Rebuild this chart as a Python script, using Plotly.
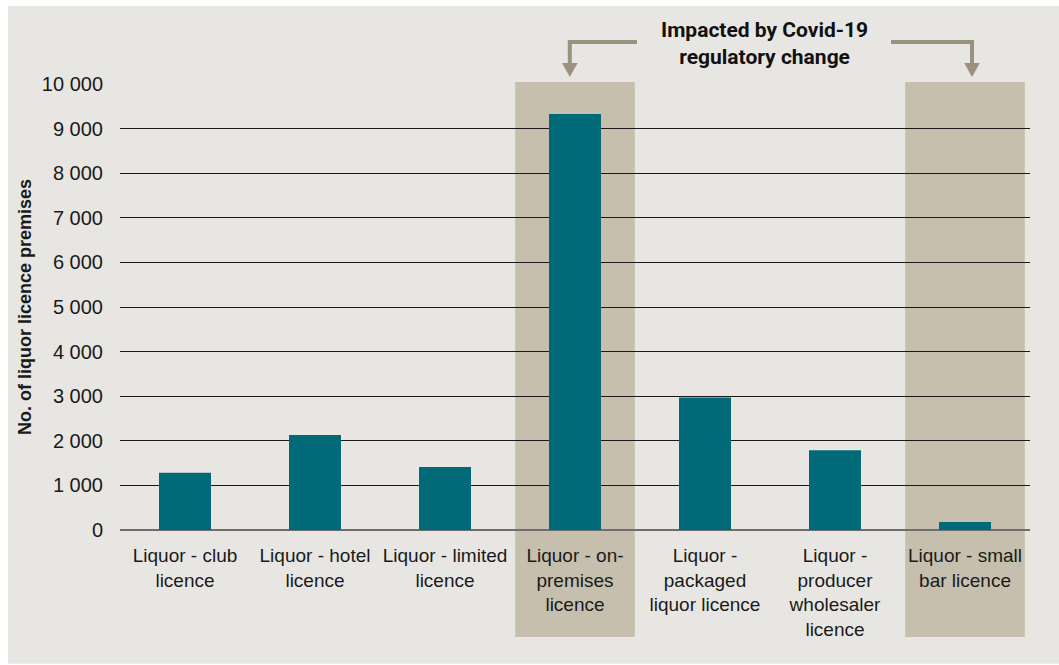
import plotly.graph_objects as go

# Liquor licence premises by licence type
categories = [
    "Liquor - club<br>licence",
    "Liquor - hotel<br>licence",
    "Liquor - limited<br>licence",
    "Liquor - on-<br>premises<br>licence",
    "Liquor -<br>packaged<br>liquor licence",
    "Liquor -<br>producer<br>wholesaler<br>licence",
    "Liquor - small<br>bar licence",
]
premises = [1285, 2130, 1412, 9330, 2970, 1790, 180]

y_ticks = [0, 1000, 2000, 3000, 4000, 5000, 6000, 7000, 8000, 9000, 10000]
y_tick_labels = ["0", "1 000", "2 000", "3 000", "4 000", "5 000",
                 "6 000", "7 000", "8 000", "9 000", "10 000"]

# licence types affected by the Covid-19 regulatory change (category index)
highlighted = [3, 6]

BG = "#e8e6e2"
TEAL = "#006a78"
TAN = "#c6bfad"
ARROW = "#9b917f"
FONT = "Liberation Sans, Arial, sans-serif"

x_idx = list(range(len(categories)))

fig = go.Figure()
fig.add_trace(go.Bar(
    x=x_idx, y=premises, width=0.4,
    marker=dict(color=TEAL, line=dict(width=0)),
    hoverinfo="skip",
))

shapes = [
    # grey panel behind the whole chart
    dict(type="rect", xref="paper", yref="paper",
         x0=-112 / 910, x1=1.04, y0=-0.30, y1=(530 - 6) / 446,
         fillcolor=BG, line=dict(width=0), layer="below"),
]
for i in highlighted:
    shapes.append(dict(type="rect", xref="x", yref="paper",
                       x0=i - 0.46, x1=i + 0.46, y0=-0.24, y1=1.0045,
                       fillcolor=TAN, line=dict(width=0), layer="below"))

# bent arrows pointing at the highlighted columns
y_bar = 1.094
y_head = 1.047
y_tip = 1.0157
left_x, left_start = 2.96, 3.477
right_x, right_start = 6.054, 5.431
for xv, xs in [(left_x, left_start), (right_x, right_start)]:
    shapes.append(dict(type="path", xref="x", yref="paper",
                       path=f"M {xs},{y_bar} L {xv},{y_bar} L {xv},{y_head}",
                       line=dict(color=ARROW, width=4)))
    shapes.append(dict(type="path", xref="x", yref="paper",
                       path=f"M {xv - 0.06},{y_head} L {xv + 0.06},{y_head} L {xv},{y_tip} Z",
                       fillcolor=ARROW, line=dict(color=ARROW, width=0)))

fig.update_layout(
    width=1059, height=665,
    margin=dict(l=120, r=29, t=84, b=135),
    paper_bgcolor="white",
    plot_bgcolor="rgba(0,0,0,0)",
    font=dict(family=FONT, size=19, color="#1a1a1a"),
    showlegend=False,
    bargap=0.6,
    shapes=shapes,
    annotations=[dict(
        text="<b>Impacted by Covid-19<br>regulatory change</b>",
        xref="x", yref="paper", x=4.454, y=(530 - 43) / 446,
        showarrow=False, xanchor="center", yanchor="middle",
        font=dict(family="Roboto, sans-serif", size=21, color="#111111"),
    )],
    xaxis=dict(
        tickmode="array", tickvals=x_idx, ticktext=categories,
        range=[-0.5, len(categories) - 0.5],
        showgrid=False, showline=False, zeroline=False, ticks="",
        ticklabelstandoff=12,
        tickfont=dict(size=19, color="#1a1a1a"),
    ),
    yaxis=dict(
        range=[0, 10000], tickmode="array", tickvals=y_ticks, ticktext=y_tick_labels,
        showgrid=True, gridcolor="#1a1a1a", gridwidth=1,
        zeroline=True, zerolinecolor="#6e6e6e", zerolinewidth=2,
        showline=False, ticks="", ticklabelstandoff=16,
        tickfont=dict(size=20, color="#1a1a1a"),
        title=dict(text="<b>No. of liquor licence premises</b>",
                   font=dict(size=18, color="#1a1a1a"), standoff=5),
    ),
)

fig.write_html("out.html")
